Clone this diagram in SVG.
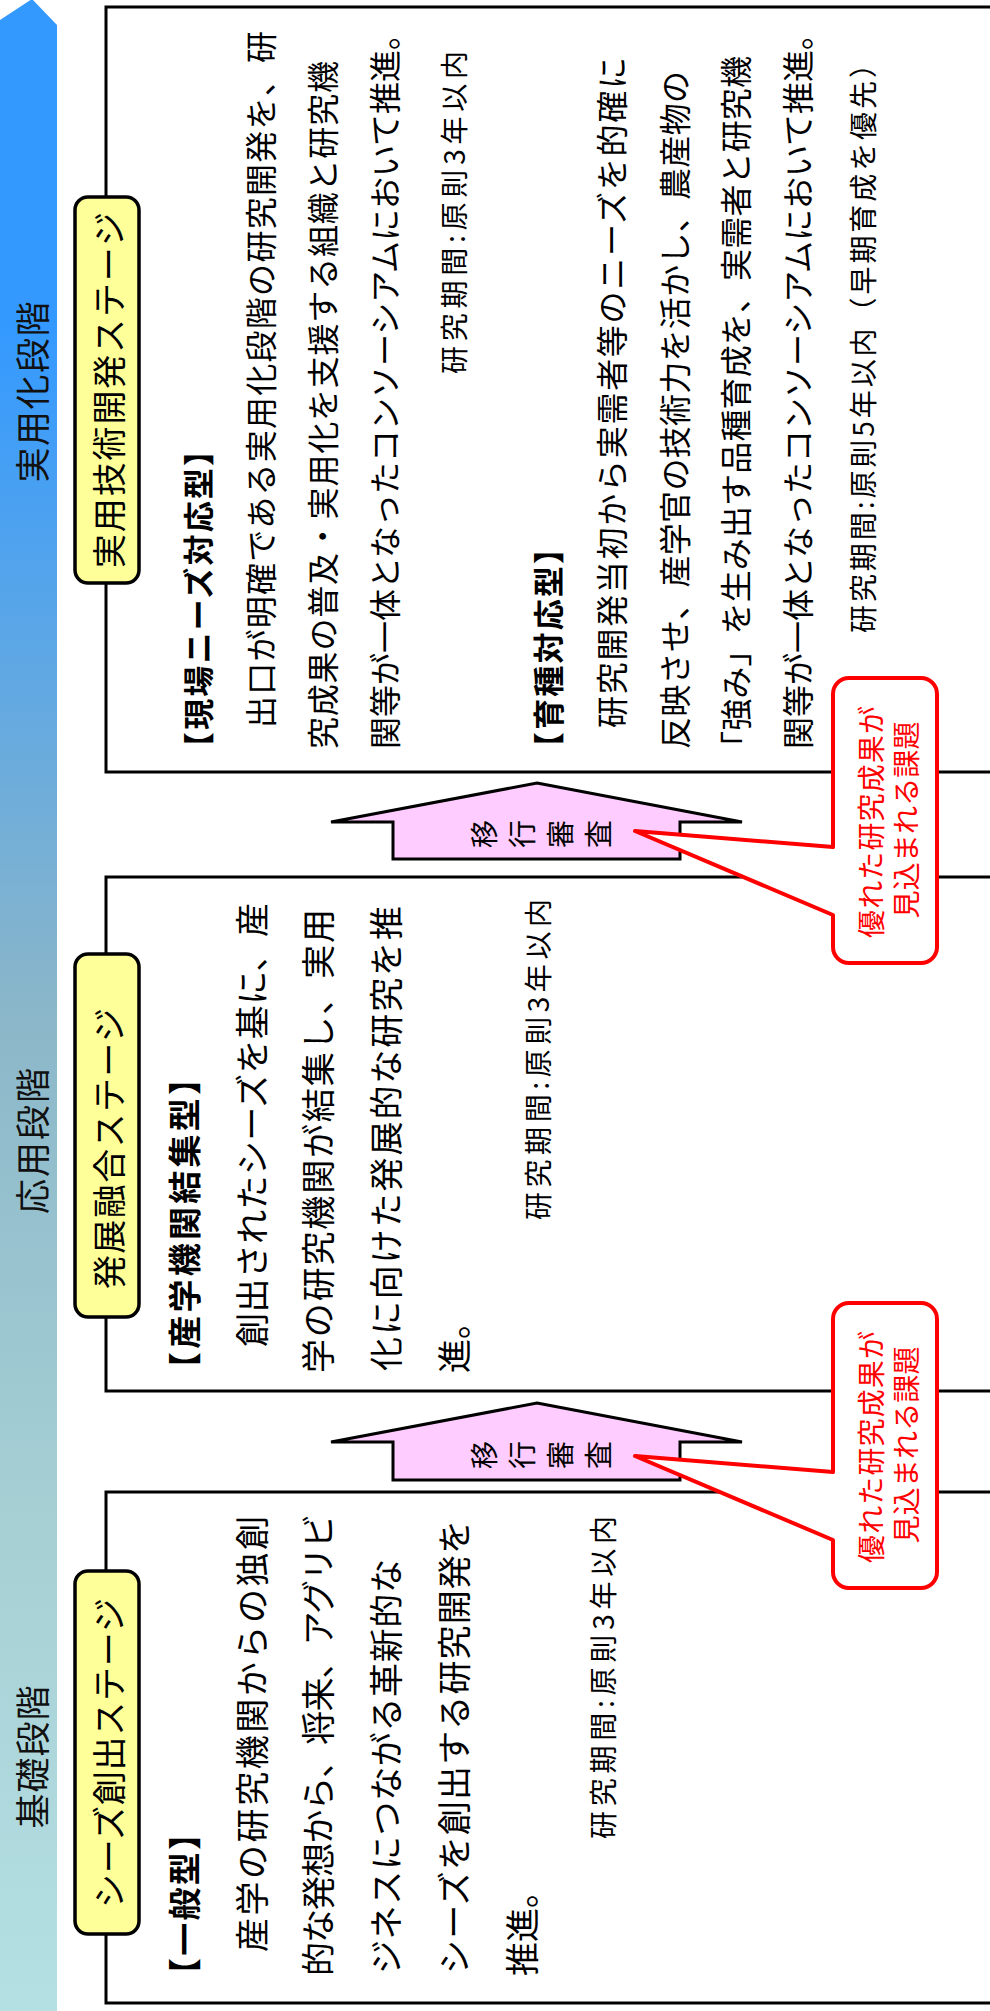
<svg xmlns="http://www.w3.org/2000/svg" width="990" height="2011" viewBox="0 0 990 2011">
<defs>
<linearGradient id="barGrad" x1="0" y1="0" x2="0" y2="2011" gradientUnits="userSpaceOnUse">
<stop offset="0" stop-color="#3399FF"/>
<stop offset="0.16" stop-color="#3399FF"/>
<stop offset="0.5" stop-color="#8AB6C9"/>
<stop offset="0.75" stop-color="#A6CFD4"/>
<stop offset="1" stop-color="#B4DFE3"/>
</linearGradient>
<style>
text { font-family: "Noto Sans CJK JP", "Noto Sans CJK SC", sans-serif; dominant-baseline: central; fill: #000; }
.phase { font-size: 35px; fill: #111; }
.tag { font-size: 34px; }
.hd { font-size: 31px; font-weight: bold; }
.hd2 { font-size: 33px; font-weight: bold; }
.t30 { font-size: 32px; }
.t32 { font-size: 34px; }
.per { font-size: 28px; }
.call { font-size: 28px; fill: #FF0000; }
.mv { font-size: 28px; }
.box { fill: #fff; stroke: #000; stroke-width: 3; }
.tagbox { fill: #FFFF99; stroke: #000; stroke-width: 3.5; }
.arrow { fill: #FFCCFF; stroke: #000; stroke-width: 3; }
.callout { fill: #fff; stroke: #FF0000; stroke-width: 4; stroke-linejoin: round; }
</style>
</defs>

<g id="phase-bar">
<polygon points="0,20 32,-1 57,25 57,2011 0,2011" fill="url(#barGrad)"/>
<text class="phase" text-anchor="middle" transform="translate(30,392) rotate(-90)" textLength="181" lengthAdjust="spacing">実用化段階</text>
<text class="phase" text-anchor="middle" transform="translate(30,1141) rotate(-90)" textLength="146" lengthAdjust="spacing">応用段階</text>
<text class="phase" text-anchor="middle" transform="translate(30,1757) rotate(-90)" textLength="143" lengthAdjust="spacing">基礎段階</text>
</g>

<g id="stage-practical">
<rect class="box" x="106" y="7" width="900" height="765"/>
<rect class="tagbox" x="75" y="197" width="64" height="386" rx="13"/>
<text class="tag" transform="translate(107,568) rotate(-90)" textLength="356" lengthAdjust="spacing">実用技術開発ステージ</text>
<text class="hd" transform="translate(196,763) rotate(-90)" textLength="328" lengthAdjust="spacing">【現場ニーズ対応型】</text>
<text class="t30" transform="translate(259,728) rotate(-90)" textLength="697" lengthAdjust="spacing">出口が明確である実用化段階の研究開発を、研</text>
<text class="t30" transform="translate(321,749) rotate(-90)" textLength="688" lengthAdjust="spacing">究成果の普及・実用化を支援する組織と研究機</text>
<text class="t30" transform="translate(383,749) rotate(-90)" textLength="731" lengthAdjust="spacing">関等が一体となったコンソーシアムにおいて推進。</text>
<text class="per" transform="translate(453,374) rotate(-90)" textLength="323" lengthAdjust="spacing">研究期間:原則3年以内</text>
<text class="hd" transform="translate(546,763) rotate(-90)" textLength="230" lengthAdjust="spacing">【育種対応型】</text>
<text class="t30" transform="translate(610,728) rotate(-90)" textLength="671" lengthAdjust="spacing">研究開発当初から実需者等のニーズを的確に</text>
<text class="t30" transform="translate(673,749) rotate(-90)" textLength="678" lengthAdjust="spacing">反映させ、産学官の技術力を活かし、農産物の</text>
<text class="t30" transform="translate(734,763) rotate(-90)" textLength="707" lengthAdjust="spacing">「強み」を生み出す品種育成を、実需者と研究機</text>
<text class="t30" transform="translate(796,749) rotate(-90)" textLength="731" lengthAdjust="spacing">関等が一体となったコンソーシアムにおいて推進。</text>
<text class="per" transform="translate(862,633) rotate(-90)" textLength="583" lengthAdjust="spacing">研究期間:原則5年以内（早期育成を優先）</text>
</g>

<g id="stage-development">
<rect class="box" x="106" y="877" width="900" height="514"/>
<rect class="tagbox" x="75" y="954" width="64" height="363" rx="13"/>
<text class="tag" transform="translate(107,1289) rotate(-90)" textLength="281" lengthAdjust="spacing">発展融合ステージ</text>
<text class="hd2" transform="translate(183,1385) rotate(-90)" textLength="323" lengthAdjust="spacing">【産学機関結集型】</text>
<text class="t32" transform="translate(250,1347) rotate(-90)" textLength="444" lengthAdjust="spacing">創出されたシーズを基に、産</text>
<text class="t32" transform="translate(316,1373) rotate(-90)" textLength="464" lengthAdjust="spacing">学の研究機関が結集し、実用</text>
<text class="t32" transform="translate(384,1371) rotate(-90)" textLength="465" lengthAdjust="spacing">化に向けた発展的な研究を推</text>
<text class="t32" transform="translate(452,1373) rotate(-90)">進。</text>
<text class="per" transform="translate(537,1220) rotate(-90)" textLength="321" lengthAdjust="spacing">研究期間:原則3年以内</text>
</g>

<g id="stage-seeds">
<rect class="box" x="106" y="1492" width="900" height="511"/>
<rect class="tagbox" x="75" y="1571" width="64" height="363" rx="13"/>
<text class="tag" transform="translate(107,1908) rotate(-90)" textLength="310" lengthAdjust="spacing">シーズ創出ステージ</text>
<text class="hd2" transform="translate(183,1991) rotate(-90)" textLength="174" lengthAdjust="spacing">【一般型】</text>
<text class="t32" transform="translate(250,1952) rotate(-90)" textLength="436" lengthAdjust="spacing">産学の研究機関からの独創</text>
<text class="t32" transform="translate(316,1976) rotate(-90)" textLength="462" lengthAdjust="spacing">的な発想から、将来、アグリビ</text>
<text class="t32" transform="translate(384,1974) rotate(-90)" textLength="415" lengthAdjust="spacing">ジネスにつながる革新的な</text>
<text class="t32" transform="translate(452,1974) rotate(-90)" textLength="454" lengthAdjust="spacing">シーズを創出する研究開発を</text>
<text class="t32" transform="translate(520,1976) rotate(-90)">推進。</text>
<text class="per" transform="translate(602,1839) rotate(-90)" textLength="323" lengthAdjust="spacing">研究期間:原則3年以内</text>
</g>

<g id="connectors">
<g id="review-upper">
<polygon class="arrow" points="537,783 742,822 680,822 680,859 393,859 393,822 331,822"/>
<text class="mv" text-anchor="middle" transform="translate(483,834) rotate(-90)">移</text>
<text class="mv" text-anchor="middle" transform="translate(521,834) rotate(-90)">行</text>
<text class="mv" text-anchor="middle" transform="translate(559,834) rotate(-90)">審</text>
<text class="mv" text-anchor="middle" transform="translate(597,834) rotate(-90)">査</text>
</g>
<g id="review-lower">
<polygon class="arrow" points="537,1403 742,1442 680,1442 680,1480 393,1480 393,1442 331,1442"/>
<text class="mv" text-anchor="middle" transform="translate(483,1455) rotate(-90)">移</text>
<text class="mv" text-anchor="middle" transform="translate(521,1455) rotate(-90)">行</text>
<text class="mv" text-anchor="middle" transform="translate(559,1455) rotate(-90)">審</text>
<text class="mv" text-anchor="middle" transform="translate(597,1455) rotate(-90)">査</text>
</g>
</g>

<g id="callout-upper">
<path class="callout" d="M849,678 H921 A16,16 0 0 1 937,694 V947 A16,16 0 0 1 921,963 H849 A16,16 0 0 1 833,947 V915 L635,831 L833,847 V694 A16,16 0 0 1 849,678 Z"/>
<text class="call" text-anchor="middle" transform="translate(870,822) rotate(-90)" textLength="232" lengthAdjust="spacing">優れた研究成果が</text>
<text class="call" text-anchor="middle" transform="translate(905,820) rotate(-90)" textLength="197" lengthAdjust="spacing">見込まれる課題</text>
</g>

<g id="callout-lower">
<path class="callout" d="M849,1303 H921 A16,16 0 0 1 937,1319 V1572 A16,16 0 0 1 921,1588 H849 A16,16 0 0 1 833,1572 V1540 L635,1456 L833,1472 V1319 A16,16 0 0 1 849,1303 Z"/>
<text class="call" text-anchor="middle" transform="translate(870,1447) rotate(-90)" textLength="232" lengthAdjust="spacing">優れた研究成果が</text>
<text class="call" text-anchor="middle" transform="translate(905,1445) rotate(-90)" textLength="197" lengthAdjust="spacing">見込まれる課題</text>
</g>
</svg>
